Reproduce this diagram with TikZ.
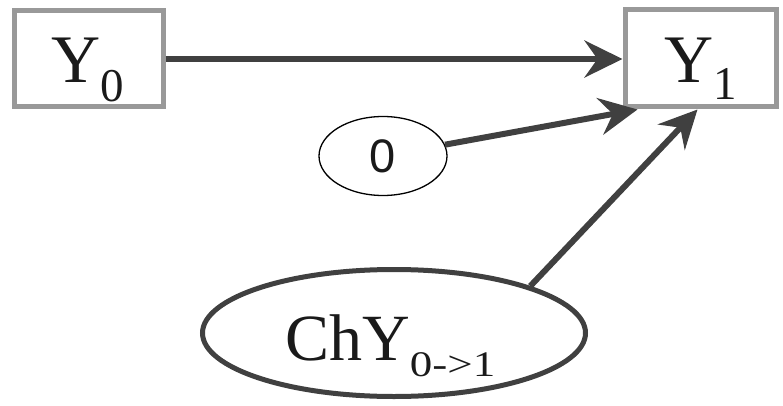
\documentclass[tikz,border=0pt]{standalone}
\usepackage{fontspec}
\usepackage{graphicx}
\setmainfont{Liberation Serif}
\newfontfamily\arialfont{Liberation Sans}
\usetikzlibrary{arrows.meta,shapes.geometric}
\definecolor{boxgray}{HTML}{999999}
\definecolor{arrowgray}{HTML}{404040}
\definecolor{inkblack}{HTML}{1A1A1A}
\tikzset{
  varbox/.style={draw=boxgray, line width=5pt, rectangle, inner sep=0pt, fill=white},
  label/.style={inner sep=0pt, text=inkblack, anchor=base west},
  conn/.style={draw=arrowgray, line width=6pt, -{Stealth[length=38pt,width=37pt,inset=13pt]}},
}
\begin{document}
\begin{tikzpicture}[x=1pt,y=1pt]
\useasboundingbox (0,0) rectangle (783,405);
% boxes
\node[varbox, minimum width=149pt, minimum height=96pt] (Y0) at (88.5,346) {};
\node[varbox, minimum width=151pt, minimum height=97pt] (Y1) at (700.5,346.5) {};
% box texts
\node[label] (Y0t) at (51,322) {\fontsize{68pt}{68pt}\selectfont Y\raisebox{-19pt}{\fontsize{47pt}{47pt}\selectfont 0}};
\node[label] (Y1t) at (664,322) {\fontsize{68pt}{68pt}\selectfont Y\raisebox{-17pt}{\fontsize{47pt}{47pt}\selectfont 1}};
% small ellipse
\node[ellipse, draw=black, line width=1.3pt, minimum width=128pt, minimum height=79pt, inner sep=0pt, text=inkblack,
      font=\arialfont\fontsize{47pt}{47pt}\selectfont] (zero) at (383,249) {0};
% big ellipse
\node[ellipse, draw=arrowgray, line width=5pt, minimum width=383pt, minimum height=127pt, inner sep=0pt] (chy) at (394,72) {};
\node[label] (chyt) at (285,45) {\fontsize{66pt}{66pt}\selectfont ChY\raisebox{-16pt}{\scalebox{1.25}[1]{\fontsize{36pt}{36pt}\selectfont 0->1}}};
% connectors
\draw[conn] (Y0.east) -- (Y0.east -| Y1.west);
\draw[conn] (zero) -- ([xshift=15pt]Y1.south west);
\draw[conn] (chy.19) -- ([xshift=75pt]Y1.south west);
\end{tikzpicture}
\end{document}
